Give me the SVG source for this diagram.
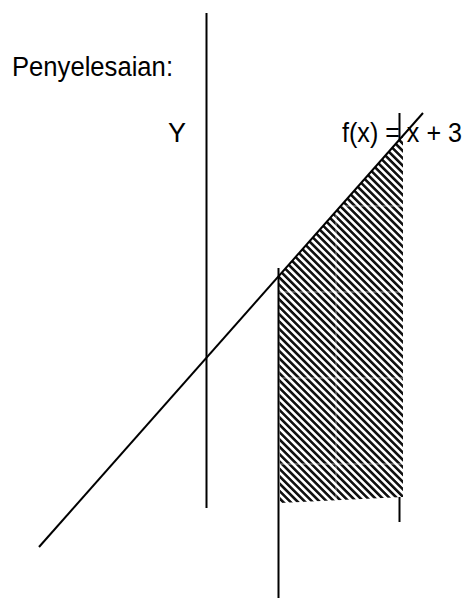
<svg xmlns="http://www.w3.org/2000/svg" width="468" height="598" viewBox="0 0 468 598">
  <style>
    .ln { stroke: #000; stroke-width: 2; fill: none; }
    .lbl { font-family: "Liberation Sans", Arial, sans-serif; font-size: 27px; fill: #000; }
    .seam { stroke: #fff; stroke-width: 1; opacity: 0.55; }
  </style>
  <defs>
    <pattern id="hatch" patternUnits="userSpaceOnUse" width="5.2" height="5.2" patternTransform="rotate(-45)">
      <rect x="0" y="0" width="5.2" height="5.2" fill="#fff"/>
      <rect x="0" y="0" width="2.6" height="5.2" fill="#111"/>
    </pattern>
    <clipPath id="regionClip">
      <polygon points="279,276 403,136 403,497 280,503"/>
    </clipPath>
  </defs>
  <rect width="468" height="598" fill="#fff"/>

  <g id="title">
    <text class="lbl" x="12" y="76" textLength="161" lengthAdjust="spacingAndGlyphs">Penyelesaian:</text>
  </g>

  <g id="area">
    <polygon points="279,276 403,136 403,497 280,503" fill="url(#hatch)"/>
    <g clip-path="url(#regionClip)">
      <line class="seam" x1="336" y1="150" x2="336" y2="510"/>
      <line class="seam" x1="270" y1="206" x2="410" y2="206"/>
      <line class="seam" x1="270" y1="292" x2="410" y2="292"/>
      <line class="seam" x1="270" y1="378" x2="410" y2="378"/>
      <line class="seam" x1="270" y1="464" x2="410" y2="464"/>
    </g>
  </g>

  <g id="connectors">
    <line id="y-axis" class="ln" x1="206.5" y1="13" x2="206.5" y2="508"/>
    <line id="graph" class="ln" x1="39" y1="547" x2="423" y2="113" stroke-width="1.8"/>
    <line id="x-left" class="ln" x1="278.5" y1="268" x2="278.5" y2="598"/>
    <line id="x-right-top" class="ln" x1="399.5" y1="113" x2="399.5" y2="140"/>
    <line id="x-right-bottom" class="ln" x1="399.5" y1="497" x2="399.5" y2="522"/>
  </g>

  <g id="label-y">
    <text class="lbl" x="168" y="142">Y</text>
  </g>
  <g id="label-f">
    <text class="lbl" x="342" y="142" textLength="120" lengthAdjust="spacingAndGlyphs">f(x) = x + 3</text>
  </g>
</svg>
